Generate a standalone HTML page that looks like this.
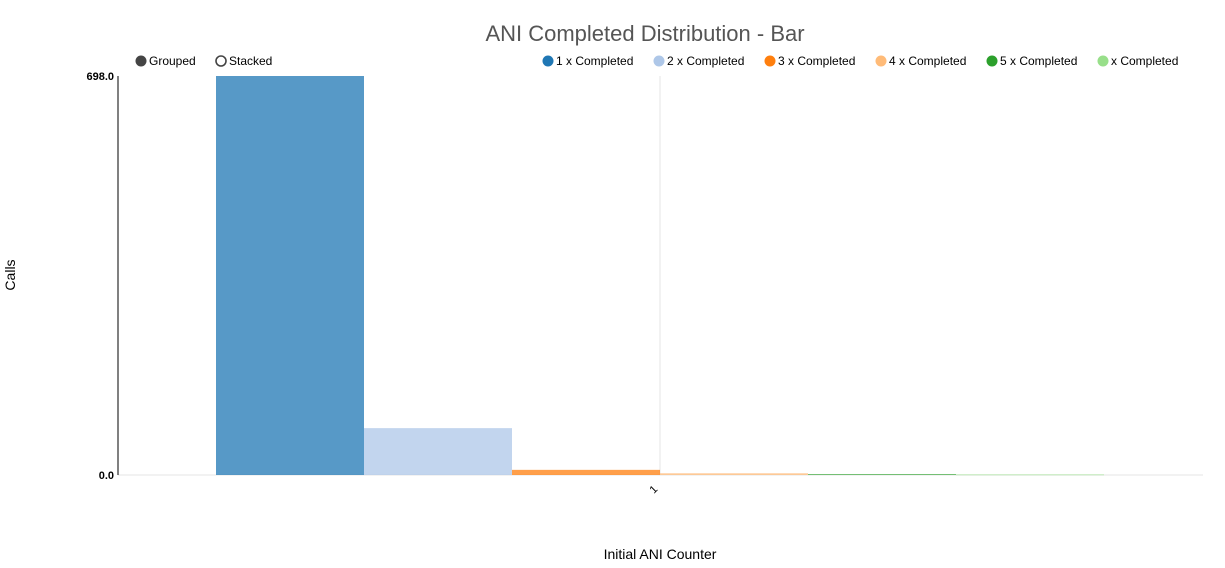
<!DOCTYPE html>
<html><head><meta charset="utf-8"><style>
body{margin:0;background:#fff;font-family:"Liberation Sans",Arial,sans-serif;}
svg text{font-family:"Liberation Sans",Arial,sans-serif;}
</style></head><body>
<svg width="1225" height="563" xmlns="http://www.w3.org/2000/svg">
<text x="645" y="41" font-size="22" fill="#555" text-anchor="middle">ANI Completed Distribution - Bar</text>
<g><circle cx="141" cy="61" r="5.5" fill="#444"/><text x="149" y="65" font-size="12" fill="#000">Grouped</text></g>
<g><circle cx="221" cy="61" r="5" fill="#fff" stroke="#444" stroke-width="1.6"/><text x="229" y="65" font-size="12" fill="#000">Stacked</text></g>
<g id="legend"></g>
<line x1="660" y1="76" x2="660" y2="475" stroke="#e5e5e5"/>
<line x1="118" y1="475" x2="1203" y2="475" stroke="#e5e5e5"/>
<line x1="118" y1="76" x2="118" y2="475" stroke="#000"/>
<text x="114" y="80" font-size="11" font-weight="bold" text-anchor="end">698.0</text>
<text x="114" y="479" font-size="11" font-weight="bold" text-anchor="end">0.0</text>
<g id="bars"></g>
<text x="656" y="492" font-size="11" transform="rotate(-45 656 492)" text-anchor="middle">1</text>
<text x="15" y="275" font-size="14" transform="rotate(-90 15 275)" text-anchor="middle">Calls</text>
<text x="660" y="559" font-size="14" text-anchor="middle">Initial ANI Counter</text>
</svg>
<script>
const categories=["1"];
const seriesNames=["1 x Completed","2 x Completed","3 x Completed","4 x Completed","5 x Completed","x Completed"];
const seriesValues=[698,82,9,3,1.5,1];
const yMax=698;
const colors=["#1f77b4","#aec7e8","#ff7f0e","#ffbb78","#2ca02c","#98df8a"];
const ns="http://www.w3.org/2000/svg";
const y0=475,y1=76,xL=216,bw=148;
function yScale(v){return y0-(v/yMax)*(y0-y1);}
const bars=document.getElementById('bars');
seriesValues.forEach((v,i)=>{
 const r=document.createElementNS(ns,'rect');
 const top=yScale(v);
 r.setAttribute('x',xL+i*bw);r.setAttribute('y',top);
 r.setAttribute('width',bw);r.setAttribute('height',Math.max(y0-top,0.8));
 r.setAttribute('fill',colors[i]);r.setAttribute('fill-opacity','0.75');
 
 
 bars.appendChild(r);
});
const leg=document.getElementById('legend');
const lx=[548,659,770,881,992,1103];
seriesNames.forEach((n,i)=>{
 const g=document.createElementNS(ns,'g');
 
 
 const c=document.createElementNS(ns,'circle');
 c.setAttribute('cx',lx[i]);c.setAttribute('cy',61);c.setAttribute('r',5.5);c.setAttribute('fill',colors[i]);
 const t=document.createElementNS(ns,'text');
 t.setAttribute('x',lx[i]+8);t.setAttribute('y',65);t.setAttribute('font-size','12');t.textContent=n;
 g.appendChild(c);g.appendChild(t);leg.appendChild(g);
});
</script>
</body></html>
